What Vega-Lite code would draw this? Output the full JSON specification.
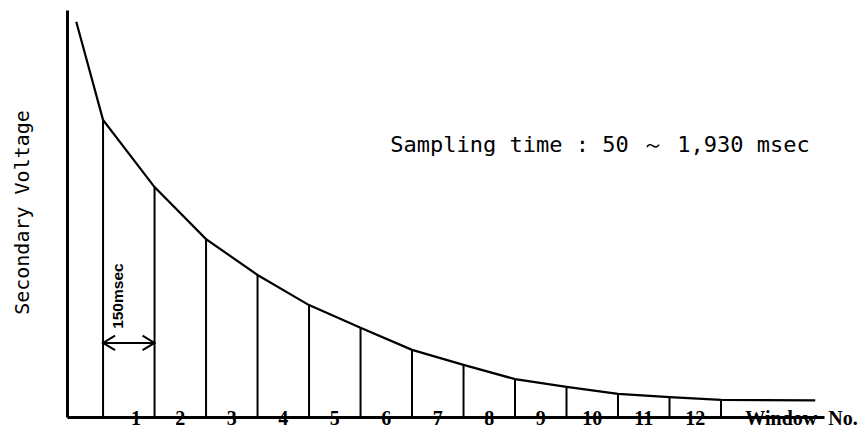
{
  "$schema": "https://vega.github.io/schema/vega-lite/v6.json",
  "width": 757,
  "height": 407,
  "autosize": {"type": "none"},
  "padding": {"left": 67, "top": 10, "right": 42, "bottom": 13},
  "background": "white",
  "config": {"view": {"stroke": null}},
  "datasets": {
    "curve": [
      {"t": -0.52, "v": 97.1},
      {"t": 0, "v": 73.0},
      {"t": 1, "v": 56.5},
      {"t": 2, "v": 43.7},
      {"t": 3, "v": 34.9},
      {"t": 4, "v": 27.5},
      {"t": 5, "v": 21.9},
      {"t": 6, "v": 16.5},
      {"t": 7, "v": 12.8},
      {"t": 8, "v": 9.3},
      {"t": 9, "v": 7.4},
      {"t": 10, "v": 5.7},
      {"t": 11, "v": 4.9},
      {"t": 12, "v": 4.2},
      {"t": 13.83, "v": 4.1}
    ],
    "winlabels": [
      {"t": 0.64, "label": "1"},
      {"t": 1.5, "label": "2"},
      {"t": 2.5, "label": "3"},
      {"t": 3.5, "label": "4"},
      {"t": 4.5, "label": "5"},
      {"t": 5.5, "label": "6"},
      {"t": 6.5, "label": "7"},
      {"t": 7.5, "label": "8"},
      {"t": 8.5, "label": "9"},
      {"t": 9.5, "label": "10"},
      {"t": 10.5, "label": "11"},
      {"t": 11.5, "label": "12"},
      {"t": 13.17, "label": "Window"},
      {"t": 14.37, "label": "No."}
    ],
    "arrow": [{"t0": 0, "t1": 1, "v": 18.2}]
  },
  "encoding": {
    "x": {"field": "t", "type": "quantitative", "scale": {"domain": [-0.7, 14.0], "nice": false, "zero": false},
      "axis": {"domain": true, "domainWidth": 3, "domainColor": "black", "ticks": false, "labels": false, "grid": false, "title": null}},
    "y": {"field": "v", "type": "quantitative", "scale": {"domain": [0, 100], "nice": false, "zero": false},
      "axis": {"domain": true, "domainWidth": 3, "domainColor": "black", "ticks": false, "labels": false, "grid": false,
        "title": "Secondary Voltage", "titleFont": "DejaVu Sans Mono", "titleFontSize": 20, "titleFontWeight": "normal", "titleColor": "black",
        "titleX": -45, "titleY": 202, "titleAngle": 270, "titleAlign": "center", "titleBaseline": "middle"}}
  },
  "layer": [
    {
      "data": {"name": "curve"},
      "mark": {"type": "line", "color": "black", "strokeWidth": 2.2}
    },
    {
      "data": {"name": "curve"},
      "transform": [{"filter": "datum.t >= 0 && datum.t <= 12"}],
      "mark": {"type": "rule", "color": "black", "strokeWidth": 2},
      "encoding": {"y": {"datum": 0}, "y2": {"field": "v"}}
    },
    {
      "data": {"name": "winlabels"},
      "mark": {"type": "text", "invalid": null, "font": "Liberation Serif", "fontWeight": "bold", "fontSize": 20, "color": "black", "align": "center", "baseline": "middle", "dy": 2},
      "encoding": {"x": {"field": "t", "type": "quantitative"}, "y": {"datum": 0, "type": "quantitative"}, "text": {"field": "label", "type": "nominal"}}
    },
    {
      "data": {"values": [{"t": 9.65, "v": 66.8, "label": "Sampling time : 50 ～ 1,930 msec"}]},
      "mark": {"type": "text", "font": "DejaVu Sans Mono", "fontSize": 22, "color": "black", "align": "center", "baseline": "middle"},
      "encoding": {"text": {"field": "label"}}
    },
    {
      "data": {"values": [{"t": 0.29, "v": 29.7, "label": "150msec"}]},
      "mark": {"type": "text", "font": "Liberation Sans", "fontWeight": "bold", "fontSize": 15.5, "color": "black", "align": "center", "baseline": "middle", "angle": 270},
      "encoding": {"text": {"field": "label"}}
    },
    {
      "data": {"name": "arrow"},
      "mark": {"type": "rule", "color": "black", "strokeWidth": 2},
      "encoding": {"x": {"field": "t0"}, "x2": {"field": "t1"}, "y": {"field": "v"}}
    },
    {
      "data": {"name": "arrow"},
      "mark": {"type": "point", "shape": "M1,-0.6L0,0L1,0.6", "filled": false, "size": 576, "strokeWidth": 2, "color": "black", "opacity": 1},
      "encoding": {"x": {"field": "t0"}, "y": {"field": "v"}}
    },
    {
      "data": {"name": "arrow"},
      "mark": {"type": "point", "shape": "M-1,-0.6L0,0L-1,0.6", "filled": false, "size": 576, "strokeWidth": 2, "color": "black", "opacity": 1},
      "encoding": {"x": {"field": "t1"}, "y": {"field": "v"}}
    }
  ]
}
